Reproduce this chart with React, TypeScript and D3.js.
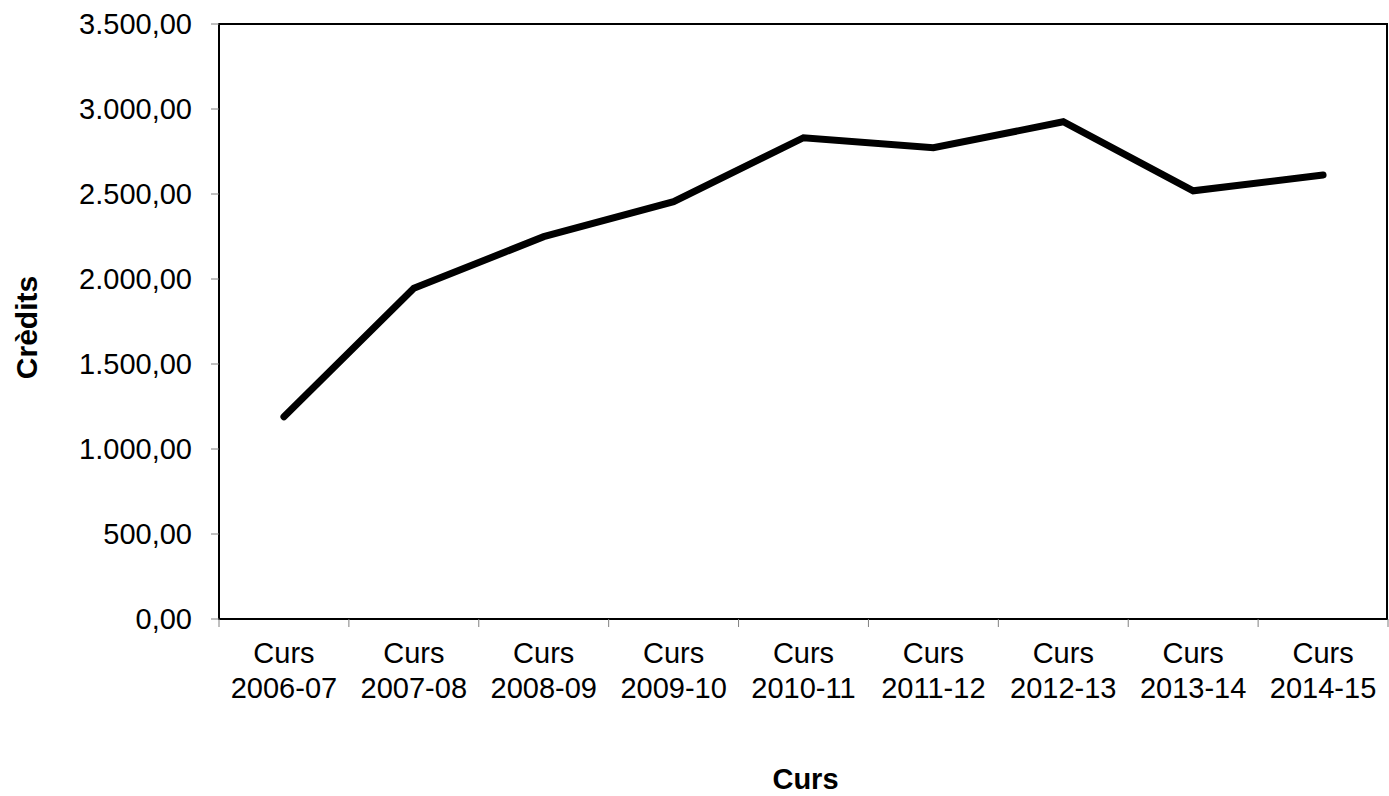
import { useEffect, useRef } from "react";
import * as d3 from "d3";

const courses = [
  "2006-07",
  "2007-08",
  "2008-09",
  "2009-10",
  "2010-11",
  "2011-12",
  "2012-13",
  "2013-14",
  "2014-15",
];
const credits = [1190, 1945, 2249, 2455, 2831, 2772, 2925, 2519, 2612];
const yTicks = [0, 500, 1000, 1500, 2000, 2500, 3000, 3500];

const W = 1389;
const H = 796;
const margin = { top: 24, right: 1, bottom: 177, left: 219 };
const FONT = "Liberation Sans, Arial, sans-serif";

// 3.500,00 style
const fmt = (v: number) => {
  const [intPart, dec] = v.toFixed(2).split(".");
  return intPart.replace(/\B(?=(\d{3})+(?!\d))/g, ".") + "," + dec;
};

const App = () => {
  const svgRef = useRef<SVGSVGElement>(null);

  useEffect(() => {
    if (!svgRef.current) return;
    const svg = d3.select(svgRef.current);
    svg.selectAll("*").remove();

    const x0 = margin.left;
    const x1 = W - margin.right;
    const y0 = H - margin.bottom;
    const y1 = margin.top;

    const x = d3.scaleBand<string>().domain(courses).range([x0, x1]);
    const y = d3.scaleLinear().domain([0, 3500]).range([y0, y1]);

    // frame
    svg
      .append("rect")
      .attr("x", x0)
      .attr("y", y1)
      .attr("width", x1 - x0 - 1)
      .attr("height", y0 - y1)
      .attr("fill", "none")
      .attr("stroke", "#000")
      .attr("stroke-width", 2);

    // y ticks + labels
    const yg = svg.append("g");
    yg.selectAll("line")
      .data(yTicks)
      .enter()
      .append("line")
      .attr("x1", x0 - 8)
      .attr("x2", x0)
      .attr("y1", (d) => y(d))
      .attr("y2", (d) => y(d))
      .attr("stroke", "#808080")
      .attr("stroke-width", 1);
    yg.selectAll("text")
      .data(yTicks)
      .enter()
      .append("text")
      .attr("x", 192)
      .attr("y", (d) => y(d))
      .attr("dy", "0.35em")
      .attr("text-anchor", "end")
      .attr("font-family", FONT)
      .attr("font-size", 29)
      .text((d) => fmt(d));

    // x ticks at band edges
    const edges = courses.map((c) => x(c)!).concat([x1]);
    svg
      .append("g")
      .selectAll("line")
      .data(edges)
      .enter()
      .append("line")
      .attr("x1", (d) => d)
      .attr("x2", (d) => d)
      .attr("y1", y0)
      .attr("y2", y0 + 8)
      .attr("stroke", "#808080")
      .attr("stroke-width", 1);

    const xl = svg
      .append("g")
      .selectAll("text")
      .data(courses)
      .enter()
      .append("text")
      .attr("text-anchor", "middle")
      .attr("font-family", FONT)
      .attr("font-size", 29);
    xl.append("tspan")
      .attr("x", (d) => x(d)! + x.bandwidth() / 2)
      .attr("y", 663)
      .text("Curs");
    xl.append("tspan")
      .attr("x", (d) => x(d)! + x.bandwidth() / 2)
      .attr("y", 698)
      .text((d) => d);

    // line
    const line = d3
      .line<number>()
      .x((_, i) => x(courses[i])! + x.bandwidth() / 2)
      .y((d) => y(d));
    svg
      .append("path")
      .datum(credits)
      .attr("d", line)
      .attr("fill", "none")
      .attr("stroke", "#000")
      .attr("stroke-width", 7)
      .attr("stroke-linejoin", "miter")
      .attr("stroke-linecap", "round");

    // axis titles
    svg
      .append("text")
      .attr("transform", `translate(37,${(y0 + y1) / 2 + 6}) rotate(-90)`)
      .attr("text-anchor", "middle")
      .attr("font-family", FONT)
      .attr("font-size", 30)
      .attr("font-weight", "bold")
      .text("Crèdits");
    svg
      .append("text")
      .attr("x", (x0 + x1) / 2 + 2)
      .attr("y", 789)
      .attr("text-anchor", "middle")
      .attr("font-family", FONT)
      .attr("font-size", 29)
      .attr("font-weight", "bold")
      .text("Curs");
  }, []);

  return (
    <svg
      ref={svgRef}
      width={W}
      height={H}
      style={{ position: "absolute", left: 0, top: 0, background: "#fff" }}
    />
  );
};

export default App;
